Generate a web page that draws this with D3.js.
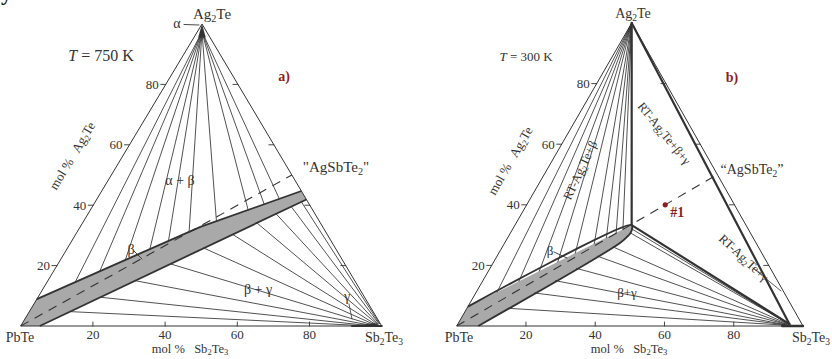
<!DOCTYPE html>
<html>
<head>
<meta charset="utf-8">
<script src="https://cdn.jsdelivr.net/npm/d3@7"></script>
<style>
  body { margin: 0; background: #fff; }
  svg text { font-family: "Liberation Serif", "DejaVu Serif", serif; fill: #333; }
</style>
</head>
<body>
<svg id="chart" width="832" height="359"></svg>
<script>
// ---- shared axis ticks (mol %) ----
const axisTicks = [20, 40, 60, 80];

// ---- panel a: T = 750 K (compositions as [Ag2Te fraction, Sb2Te3 fraction]) ----
const betaUpperA_s = [0, 0.20, 0.333, 0.553];
const betaUpperA_a = [0.089, 0.233, 0.328, 0.447];
const betaLowerA_s = [0.053, 0.581];
const betaLowerA_a = [0, 0.419];
const alphaA = [0.975, 0.0125];
const alphaBetaTieA_s = [0.078, 0.128, 0.18, 0.23, 0.268, 0.31, 0.368, 0.437, 0.472, 0.505];
const betaGammaTieA_s = [0.113, 0.173, 0.242, 0.312, 0.378, 0.435, 0.483, 0.521, 0.551, 0.571];
const gammaEndA_s = [0.935, 0.95, 0.96, 0.968, 0.974, 0.979, 0.983, 0.986, 0.988, 0.99];
const gammaEndA_a = [0.002, 0.003, 0.004, 0.005, 0.006, 0.006, 0.007, 0.007, 0.008, 0.008];
const gammaStripA_s = [0.918, 1];

// ---- panel b: T = 300 K ----
const betaUpperB_s = [0, 0.337];
const betaUpperB_a = [0.064, 0.333];
const betaLowerB_s = [0.0624, 0.333];
const betaLowerB_a = [0, 0.274];
const betaTipB_a = [0.333, 0.320, 0.307, 0.294, 0.274];
const betaTipB_s = [0.337, 0.3445, 0.3468, 0.3433, 0.333];
const agBetaTieB_s = [0.06, 0.105, 0.147, 0.185, 0.221, 0.26, 0.285, 0.305, 0.319];
const betaGammaTieB_s = [0.12, 0.17, 0.21, 0.25, 0.29, 0.32];
const betaGammaTipB = [1, 2];            // indices into betaTipB_* used as tie-line starts
const gammaEndB_s = [0.944, 0.946, 0.948, 0.95, 0.952, 0.954, 0.956, 0.957];
const gammaEndB_a = [0.003, 0.004, 0.004, 0.005, 0.005, 0.006, 0.006, 0.006];
const gammaB = [0.006, 0.958];
const gammaStripB_s = [0.94, 1];
const sample1 = [0.40, 0.40];

const ink = "#333";
const red = "#8e1f1f";
const svg = d3.select("#chart");

// ternary projection built from linear scales
function ternary(P, S, A) {
  const sx = d3.scaleLinear([0, 1], [P[0], S[0]]);
  const ax = d3.scaleLinear([0, 1], [0, A[0] - P[0]]);
  const ay = d3.scaleLinear([0, 1], [P[1], A[1]]);
  return (a, s) => [sx(s) + ax(a), ay(a)];
}

function seg(g, p, q, w, extra) {
  const l = g.append("line")
    .attr("x1", p[0]).attr("y1", p[1]).attr("x2", q[0]).attr("y2", q[1])
    .attr("stroke", ink).attr("stroke-width", w).attr("stroke-linecap", "round");
  if (extra) extra(l);
  return l;
}

// text with chemical subscripts: parts = [[str, isSub], ...]
function chem(g, x, y, parts, size, opts = {}) {
  const t = g.append("text").attr("x", x).attr("y", y)
    .attr("font-size", size).attr("text-anchor", opts.anchor || "middle");
  if (opts.transform) t.attr("transform", opts.transform);
  if (opts.fill) t.style("fill", opts.fill);
  if (opts.weight) t.attr("font-weight", opts.weight);
  let shifted = false;
  parts.forEach(([str, sub]) => {
    const ts = t.append("tspan").text(str);
    if (sub && !shifted) { ts.attr("dy", size * 0.2).attr("font-size", size * 0.68); shifted = true; }
    else if (sub) ts.attr("font-size", size * 0.68);
    else if (shifted) { ts.attr("dy", -size * 0.2); shifted = false; }
  });
  return t;
}

function frame(g, tp) {
  const P = tp(0, 0), S = tp(0, 1), A = tp(1, 0);
  g.append("path").attr("d", d3.line()([P, S, A, P]))
    .attr("fill", "none").attr("stroke", ink).attr("stroke-width", 1);
  axisTicks.forEach(v => {
    const f = v / 100;
    const l = tp(f, 0); seg(g, l, [l[0] - 5, l[1]], 0.9);
    const b = tp(0, f); seg(g, b, [b[0], b[1] - 4], 0.9);
    const r = tp(f, 1 - f); seg(g, r, [r[0] - 5, r[1]], 0.9);
    g.append("text").attr("x", l[0] - 7).attr("y", l[1] + 4.5)
      .attr("text-anchor", "end").attr("font-size", 13).text(v);
    g.append("text").attr("x", b[0]).attr("y", 339)
      .attr("text-anchor", "middle").attr("font-size", 13).text(v);
  });
}

const dashed = l => l.attr("stroke-dasharray", "9,7").attr("stroke-linecap", "butt");

// ================= panel a =================
{
  const tp = ternary([20.7, 326], [381.7, 326], [202, 24]);
  const g = svg.append("g");
  const upper = d3.scaleLinear(betaUpperA_s, betaUpperA_a);
  const lower = d3.scaleLinear(betaLowerA_s, betaLowerA_a);

  const upperPts = betaUpperA_s.map((s, i) => tp(betaUpperA_a[i], s));
  const lowerPts = betaLowerA_s.map((s, i) => tp(betaLowerA_a[i], s)).reverse();
  g.append("path").attr("d", d3.line()([tp(0, 0), ...upperPts, ...lowerPts]) + "Z")
    .attr("fill", "#a9a9a9").attr("stroke", "none");

  // alpha + beta tie lines
  alphaBetaTieA_s.forEach(s => seg(g, tp(...alphaA), tp(upper(s), s), 0.85));
  // beta + gamma tie lines
  betaGammaTieA_s.forEach((s, i) => seg(g, tp(lower(s), s), tp(gammaEndA_a[i], gammaEndA_s[i]), 0.85));

  // alpha and gamma corner phases
  g.append("path").attr("d", d3.line()([tp(1, 0), tp(0.955, 0.012), tp(0.955, 0.033)]) + "Z").attr("fill", ink);
  g.append("path").attr("d", d3.line()([tp(0, gammaStripA_s[0]), tp(0, gammaStripA_s[1]), tp(0.01, 0.975)]) + "Z").attr("fill", ink);
  seg(g, tp(0, gammaStripA_s[0]), tp(0, gammaStripA_s[1]), 2.2);

  // PbTe - AgSbTe2 section
  seg(g, tp(0, 0), tp(0.5, 0.5), 1.1, dashed);

  g.append("path").attr("d", d3.line()(upperPts)).attr("fill", "none").attr("stroke", ink).attr("stroke-width", 1.8);
  g.append("path").attr("d", d3.line()(lowerPts)).attr("fill", "none").attr("stroke", ink).attr("stroke-width", 1.8);

  frame(g, tp);

  chem(g, 212, 19, [["Ag"], ["2", 1], ["Te"]], 15);
  g.append("text").attr("x", 177).attr("y", 28).attr("text-anchor", "middle").attr("font-size", 14).text("α");
  seg(g, [184, 24.5], [199, 25], 0.9);
  const tT = g.append("text").attr("x", 101).attr("y", 61).attr("text-anchor", "middle").attr("font-size", 16);
  tT.append("tspan").attr("font-style", "italic").text("T");
  tT.append("tspan").text(" = 750 K");
  g.append("text").attr("x", 284).attr("y", 81).attr("text-anchor", "middle").attr("font-size", 14)
    .attr("font-weight", "bold").style("fill", red).text("a)");
  chem(g, 336, 172, [["\"AgSbTe"], ["2", 1], ["\""]], 15);
  g.append("text").attr("x", 180).attr("y", 185).attr("text-anchor", "middle").attr("font-size", 14).text("α + β");
  g.append("text").attr("x", 131).attr("y", 254).attr("text-anchor", "middle").attr("font-size", 14).text("β");
  seg(g, [134, 251], [142, 259], 0.9);
  g.append("text").attr("x", 258).attr("y", 294).attr("text-anchor", "middle").attr("font-size", 14).text("β + γ");
  g.append("text").attr("x", 347).attr("y", 301).attr("text-anchor", "middle").attr("font-size", 14).text("γ");
  seg(g, [349, 304], [352, 319], 0.8);

  chem(g, 20, 342, [["PbTe"]], 14);
  chem(g, 384, 342, [["Sb"], ["2", 1], ["Te"], ["3", 1]], 14);
  chem(g, 190, 352.5, [["mol %\u00a0\u00a0 Sb"], ["2", 1], ["Te"], ["3", 1]], 12.5);
  chem(g, 0, 0, [["mol %\u00a0\u00a0 Ag"], ["2", 1], ["Te"]], 13, { transform: "translate(76,158) rotate(-59)" });
}

// ================= panel b =================
{
  const tp = ternary([456.7, 326], [803, 326], [631.7, 23]);
  const g = svg.append("g");
  const upper = d3.scaleLinear(betaUpperB_s, betaUpperB_a);
  const lower = d3.scaleLinear(betaLowerB_s, betaLowerB_a);

  const upperPts = betaUpperB_s.map((s, i) => tp(betaUpperB_a[i], s));
  const tipPts = betaTipB_s.map((s, i) => tp(betaTipB_a[i], s));
  const lowerPts = betaLowerB_s.map((s, i) => tp(betaLowerB_a[i], s)).reverse();
  const outline = [...upperPts, ...tipPts.slice(1), ...lowerPts.slice(1)];
  g.append("path").attr("d", d3.line().curve(d3.curveLinear)([tp(0, 0), ...outline]) + "Z")
    .attr("fill", "#a9a9a9").attr("stroke", "none");

  // Ag2Te + beta tie lines
  agBetaTieB_s.forEach(s => seg(g, tp(1, 0), tp(upper(s), s), 0.85));
  // beta + gamma tie lines
  const starts = [...betaGammaTieB_s.map(s => tp(lower(s), s)), ...betaGammaTipB.map(i => tipPts[i])];
  starts.forEach((p, i) => seg(g, p, tp(gammaEndB_a[i], gammaEndB_s[i]), 0.85));

  seg(g, tp(0, gammaStripB_s[0]), tp(0, gammaStripB_s[1]), 2.4);

  // PbTe - AgSbTe2 section
  seg(g, tp(0, 0), tp(0.5, 0.5), 1.1, dashed);

  g.append("path").attr("d", d3.line().curve(d3.curveCatmullRom)(outline))
    .attr("fill", "none").attr("stroke", ink).attr("stroke-width", 1.9);

  // three-phase triangle Ag2Te + beta + gamma
  const tip = tp(betaTipB_a[0], betaTipB_s[0]);
  seg(g, tp(1, 0), tip, 2.2);
  seg(g, tip, tp(...gammaB), 2.2);
  seg(g, tp(1, 0), tp(...gammaB), 2.2);

  frame(g, tp);

  // sample #1
  const p1 = tp(...sample1);
  g.append("circle").attr("cx", p1[0]).attr("cy", p1[1]).attr("r", 2.6).attr("fill", red);
  g.append("text").attr("x", p1[0] + 5).attr("y", p1[1] + 12).attr("font-size", 14)
    .attr("font-weight", "bold").style("fill", red).text("#1");

  chem(g, 633, 18, [["Ag"], ["2", 1], ["Te"]], 14);
  const tT = g.append("text").attr("x", 526).attr("y", 61).attr("text-anchor", "middle").attr("font-size", 13);
  tT.append("tspan").attr("font-style", "italic").text("T");
  tT.append("tspan").text(" = 300 K");
  g.append("text").attr("x", 732).attr("y", 82).attr("text-anchor", "middle").attr("font-size", 14)
    .attr("font-weight", "bold").style("fill", red).text("b)");
  chem(g, 752, 174, [["\u201cAgSbTe"], ["2", 1], ["\u201d"]], 14);
  chem(g, 0, 0, [["RT-Ag"], ["2", 1], ["Te+β"]], 12.5, { transform: "translate(584,172) rotate(-65)" });
  chem(g, 0, 0, [["RT-Ag"], ["2", 1], ["Te+β+γ"]], 12.5, { transform: "translate(661,136) rotate(51)" });
  chem(g, 0, 0, [["RT-Ag"], ["2", 1], ["Te+γ"]], 12.5, { transform: "translate(741,261) rotate(43)" });
  seg(g, [753, 268], [781, 291], 0.8);
  g.append("text").attr("x", 550).attr("y", 255).attr("text-anchor", "middle").attr("font-size", 13).text("β");
  seg(g, [554, 252], [567, 258], 0.9);
  g.append("text").attr("x", 627).attr("y", 297).attr("text-anchor", "middle").attr("font-size", 13).text("β+γ");

  chem(g, 459, 342, [["PbTe"]], 14);
  chem(g, 811, 342, [["Sb"], ["2", 1], ["Te"], ["3", 1]], 14);
  chem(g, 629, 352.5, [["mol %\u00a0\u00a0 Sb"], ["2", 1], ["Te"], ["3", 1]], 12.5);
  chem(g, 0, 0, [["mol %\u00a0\u00a0 Ag"], ["2", 1], ["Te"]], 13, { transform: "translate(514,163) rotate(-60)" });
}

// fragment of a glyph from the preceding line, cut by the top edge
svg.append("text").attr("x", 1).attr("y", 0).attr("font-size", 22).attr("font-weight", "bold")
  .style("fill", "#111").text("y");
</script>
</body>
</html>
